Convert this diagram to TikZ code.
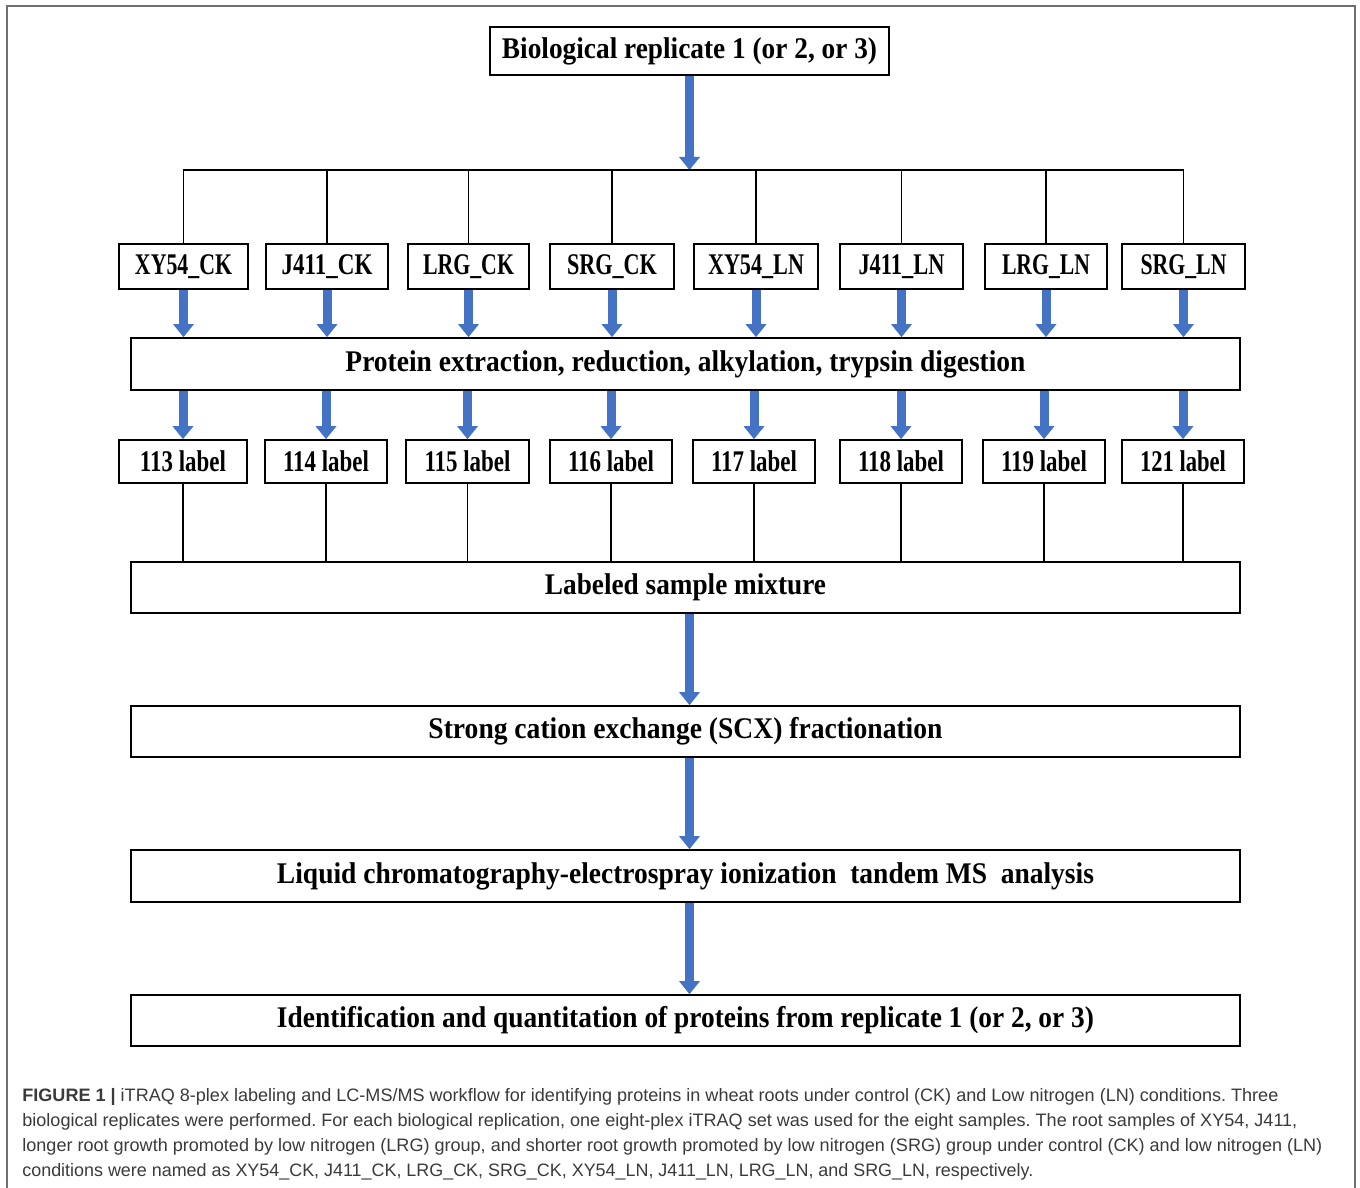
\documentclass[tikz,border=0pt]{standalone}
\usepackage{fontspec}
\setmainfont{Liberation Serif}
\newfontfamily\capfont{Liberation Sans}
\usepackage{graphicx}
\usetikzlibrary{arrows.meta}

\definecolor{flowblue}{HTML}{4472C4}
\definecolor{framegray}{HTML}{707070}
\definecolor{captext}{HTML}{3A3A3A}

% squeeze a text to a given width (pt), keeping its height
\newcommand{\sqz}[2]{\resizebox{#1pt}{\height}{#2}}
\frenchspacing

\begin{document}
\begin{tikzpicture}[
	x=0.5pt, y=-0.5pt,
	box/.style={draw=black, line width=0.9pt, inner sep=0pt, font=\bfseries\fontsize{15}{18}\selectfont},
	sample/.style={box, minimum height=22.5pt},
	tag/.style={box, minimum height=21.5pt},
	stage/.style={box, minimum width=554.5pt, minimum height=25.5pt},
	link/.style={line width=0.75pt},
	flow/.style={draw=flowblue, line width=4.5pt, -{Triangle[width=10.5pt,length=6.5pt,line width=0pt]}},
	caption/.style={anchor=base west, inner sep=0pt, text=captext, font=\capfont\fontsize{9}{11}\selectfont},
]
\useasboundingbox (0,0) rectangle (1360,1188);
\draw [framegray, line width=1pt] (7,1188) -- (7,6) -- (1355,6) -- (1355,1188);

\begin{scope}[]
%%% REPLICATE AND SAMPLES
\node [box, minimum width=199.5pt, minimum height=24pt] (rep) at (689.5,51) {\sqz{187.5}{Biological replicate 1 (or 2, or 3)}};
\coordinate (bus) at (689.5,170);

\node [sample, minimum width=64.5pt] (xyck) at (183.5,266.5) {\sqz{48.5}{XY54\_CK}};
\node [sample, minimum width=61pt]   (jck)  at (327,266.5)   {\sqz{45.5}{J411\_CK}};
\node [sample, minimum width=60.5pt] (lck)  at (468.5,266.5) {\sqz{45.5}{LRG\_CK}};
\node [sample, minimum width=62pt]   (sck)  at (612,266.5)   {\sqz{45}{SRG\_CK}};
\node [sample, minimum width=62pt]   (xyln) at (756,266.5)   {\sqz{48}{XY54\_LN}};
\node [sample, minimum width=61.5pt] (jln)  at (901.5,266.5) {\sqz{43}{J411\_LN}};
\node [sample, minimum width=61pt]   (lln)  at (1046,266.5)  {\sqz{44}{LRG\_LN}};
\node [sample, minimum width=61.5pt] (sln)  at (1183.5,266.5) {\sqz{43}{SRG\_LN}};

\draw [flow] (rep.south) -- (bus);
\draw [link] (xyck.north) |- (sln.north |- bus) -- (sln.north);
\foreach \s in {jck,lck,sck,xyln,jln,lln}
	\draw [link] (\s.north) -- (\s.north |- bus);
\end{scope}

\begin{scope}[]
%%% DIGESTION AND LABELS
\node [stage, minimum height=26pt] (prot) at (685.5,364) {\sqz{340}{Protein extraction, reduction, alkylation, trypsin digestion}};

\node [tag, minimum width=64pt] (l113) at (183,461.5)   {\sqz{43}{113 label}};
\node [tag, minimum width=61pt] (l114) at (326,461.5)   {\sqz{43}{114 label}};
\node [tag, minimum width=61.5pt] (l115) at (467.5,461.5) {\sqz{43}{115 label}};
\node [tag, minimum width=61pt] (l116) at (611,461.5)   {\sqz{43}{116 label}};
\node [tag, minimum width=61pt] (l117) at (754,461.5)   {\sqz{43}{117 label}};
\node [tag, minimum width=61pt] (l118) at (901,461.5)   {\sqz{43}{118 label}};
\node [tag, minimum width=61pt] (l119) at (1044,461.5)  {\sqz{43}{119 label}};
\node [tag, minimum width=61pt] (l121) at (1183,461.5)  {\sqz{43}{121 label}};

\foreach \s/\t in {xyck/l113,jck/l114,lck/l115,sck/l116,xyln/l117,jln/l118,lln/l119,sln/l121} {
	\draw [flow] (\s.south) -- (\s.south |- prot.north);
	\draw [flow] (\t.north |- prot.south) -- (\t.north);
}
\end{scope}

\begin{scope}[]
%%% MIXTURE TO ANALYSIS
\node [stage] (mix)   at (685.5,587.5) {\sqz{140.5}{Labeled sample mixture}};
\node [stage] (scx)   at (685.5,731.5) {\sqz{257}{Strong cation exchange (SCX) fractionation}};
\node [stage, minimum height=26pt] (lcms) at (685.5,876) {\sqz{408.5}{Liquid chromatography-electrospray ionization~ tandem MS~ analysis}};
\node [stage] (ident) at (685.5,1020.5) {\sqz{408.5}{Identification and quantitation of proteins from replicate 1 (or 2, or 3)}};

\foreach \t in {l113,l114,l115,l116,l117,l118,l119,l121}
	\draw [link] (\t.south) -- (\t.south |- mix.north);

\draw [flow] (rep.south |- mix.south) -- (rep.south |- scx.north);
\draw [flow] (rep.south |- scx.south) -- (rep.south |- lcms.north);
\draw [flow] (rep.south |- lcms.south) -- (rep.south |- ident.north);
\end{scope}

%%% CAPTION
\node [caption] (cap1) at (22,1101) {\sqz{628}{\textbf{FIGURE 1 |} iTRAQ 8-plex labeling and LC-MS/MS workflow for identifying proteins in wheat roots under control (CK) and Low nitrogen (LN) conditions. Three}};
\node [caption] (cap2) at (22,1126) {\sqz{637.5}{biological replicates were performed. For each biological replication, one eight-plex iTRAQ set was used for the eight samples. The root samples of XY54, J411,}};
\node [caption] (cap3) at (22,1151) {\sqz{650}{longer root growth promoted by low nitrogen (LRG) group, and shorter root growth promoted by low nitrogen (SRG) group under control (CK) and low nitrogen (LN)}};
\node [caption] (cap4) at (22,1176) {\sqz{505.5}{conditions were named as XY54\_CK, J411\_CK, LRG\_CK, SRG\_CK, XY54\_LN, J411\_LN, LRG\_LN, and SRG\_LN, respectively.}};

\end{tikzpicture}
\end{document}
